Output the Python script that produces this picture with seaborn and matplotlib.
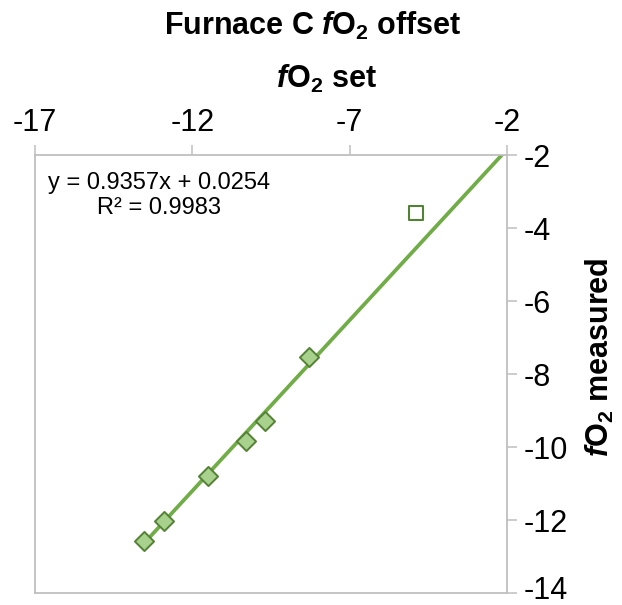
import numpy as np
import pandas as pd
import matplotlib
matplotlib.use("Agg")
import matplotlib.pyplot as plt
import matplotlib.transforms as mtransforms
import seaborn as sns

# ---- data ----
fo2_set = [-13.55, -12.91, -11.51, -10.29, -9.70, -8.30]
fo2_measured = [-12.58, -12.03, -10.79, -9.84, -9.28, -7.53]
outlier_set = [-4.88]
outlier_measured = [-3.60]
slope = 0.9357
intercept = 0.0254
r2 = 0.9983
x_ticks = [-17, -12, -7, -2]
y_ticks = [-14, -12, -10, -8, -6, -4, -2]

sns.set_theme(style="white")
plt.rcParams['font.family'] = ['Liberation Sans', 'DejaVu Sans']
plt.rcParams['text.color'] = 'black'
plt.rcParams['mathtext.fontset'] = 'custom'
plt.rcParams['mathtext.rm'] = 'Liberation Sans'
plt.rcParams['mathtext.it'] = 'Liberation Sans:italic'
plt.rcParams['mathtext.bf'] = 'Liberation Sans:bold'
try:
    plt.rcParams['mathtext.bfit'] = 'Liberation Sans:italic:bold'
except KeyError:
    pass

fig = plt.figure(figsize=(6.22, 6.05), dpi=100)
W, H = 622, 605
left, right, top, bottom = 35, 507, 155, 593
ax = fig.add_axes([left / W, 1 - bottom / H, (right - left) / W, (bottom - top) / H])

df = pd.DataFrame({"set": fo2_set, "measured": fo2_measured})
df_out = pd.DataFrame({"set": outlier_set, "measured": outlier_measured})
xl = np.array([min(fo2_set), -2.0])
df_line = pd.DataFrame({"x": xl, "y": slope * xl + intercept})

sns.lineplot(data=df_line, x="x", y="y", ax=ax, color="#70AD47", lw=2.7, zorder=2)
sns.scatterplot(data=df, x="set", y="measured", ax=ax, marker="D", s=95,
                color="#A9D18E", edgecolor="#548235", linewidth=1.4, zorder=3)
sns.scatterplot(data=df_out, x="set", y="measured", ax=ax, marker="s", s=100,
                facecolor="none", edgecolor="#548235", linewidth=1.5, zorder=3)

ax.set_xlim(-17, -2)
ax.set_ylim(-14, -2)
ax.set_xticks(x_ticks)
ax.set_yticks(y_ticks)
ax.set_xticklabels([str(v) for v in x_ticks])
ax.set_yticklabels([str(v) for v in y_ticks])
ax.xaxis.tick_top()
ax.yaxis.tick_right()
ax.tick_params(axis='both', which='major', direction='out', length=7, width=1.1,
               color='#BFBFBF', labelsize=22, pad=5, labelcolor='black')
ax.tick_params(axis='x', top=True, bottom=False, labeltop=True, labelbottom=False)
ax.tick_params(axis='y', right=True, left=False, labelright=True, labelleft=False)
for s in ax.spines.values():
    s.set_visible(True)
    s.set_color('#BFBFBF')
    s.set_linewidth(1.3)
ax.set_xlabel("")
ax.set_ylabel("")
ax.grid(False)

# lift the bottom-most y tick label a little so it stays inside the figure
lowest = ax.get_yticklabels()[0]
lowest.set_transform(lowest.get_transform() +
                     mtransforms.ScaledTranslation(0, 6 / 100, fig.dpi_scale_trans))

fig.text(313 / W, 1 - 35 / H, r"Furnace C $\mathbfit{f}\mathbf{O}_\mathbf{2}$ offset",
         ha='center', va='baseline', fontsize=22, fontweight='bold', color='black')
fig.text(327 / W, 1 - 88 / H, r"$\mathbfit{f}\mathbf{O}_\mathbf{2}$ set",
         ha='center', va='baseline', fontsize=22, fontweight='bold', color='black')
fig.text(600 / W, 1 - 357 / H, r"$\mathbfit{f}\mathbf{O}_\mathbf{2}$ measured",
         ha='center', va='center', rotation=90, fontsize=22, fontweight='bold',
         color='black')

fig.text(159 / W, 1 - 214 / H, f"y = {slope}x + {intercept}\nR\u00b2 = {r2}",
         ha='center', va='baseline', multialignment='center', fontsize=17,
         linespacing=1.15, color='black')

fig.savefig("out.png", dpi=100)
